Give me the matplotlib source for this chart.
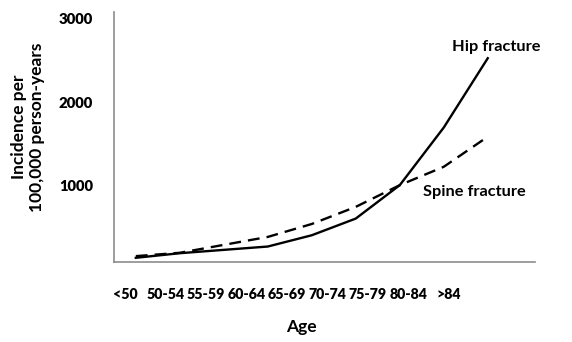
import matplotlib.pyplot as plt
import numpy as np

# age groups and incidence per 100,000 person-years
age_groups = ["<50", "50-54", "55-59", "60-64", "65-69", "70-74", "75-79", "80-84", ">84"]
hip = [140, 195, 235, 275, 410, 610, 1010, 1700, 2530]
spine = [160, 200, 295, 390, 545, 750, 1010, 1230, 1590]
y_ticks = [1000, 2000, 3000]

plt.rcParams["font.family"] = ["Lato", "DejaVu Sans"]
plt.rcParams["font.weight"] = "bold"

fig = plt.figure(figsize=(5.72, 3.42), dpi=100)
ax = fig.add_axes([0.199, 0.234, 0.736, 0.731])

x = np.arange(len(age_groups))
ax.plot(x, hip, color="black", lw=1.7, solid_joinstyle="round")
ax.plot(x, spine, color="black", lw=1.7, dashes=(5, 3))

ax.set_xlim(-0.5, 9.07)
ax.set_ylim(90, 3084)

# category labels in the original sit a bit left of the plotted points
ax.set_xticks(np.arange(len(age_groups)) * 0.92 - 0.25)
ax.set_xticklabels(age_groups, fontsize=10.2, fontweight="heavy")
ax.set_yticks(y_ticks)
ax.set_yticklabels([str(v) for v in y_ticks], fontsize=10.7, fontweight="heavy")
ax.tick_params(axis="x", length=0, pad=19)
ax.tick_params(axis="y", length=0, pad=15)

for side in ["top", "right"]:
    ax.spines[side].set_visible(False)
for side in ["left", "bottom"]:
    ax.spines[side].set_color("#8c8c8c")
    ax.spines[side].set_linewidth(1.2)

ax.text(8.2, 2580, "Hip fracture", fontsize=11.8, fontweight="bold", ha="center", va="bottom")
ax.text(7.7, 930, "Spine fracture", fontsize=11.8, fontweight="bold", ha="center", va="center")

fig.text(301 / 572, 1 - 327 / 342, "Age", fontsize=12.5, fontweight="bold", ha="center", va="center")
fig.text(28 / 572, 1 - 127 / 342, "Incidence per\n100,000 person-years", fontsize=12.5,
         fontweight="bold", ha="center", va="center", rotation=90, linespacing=1.1)

fig.savefig("out.png", dpi=100)
